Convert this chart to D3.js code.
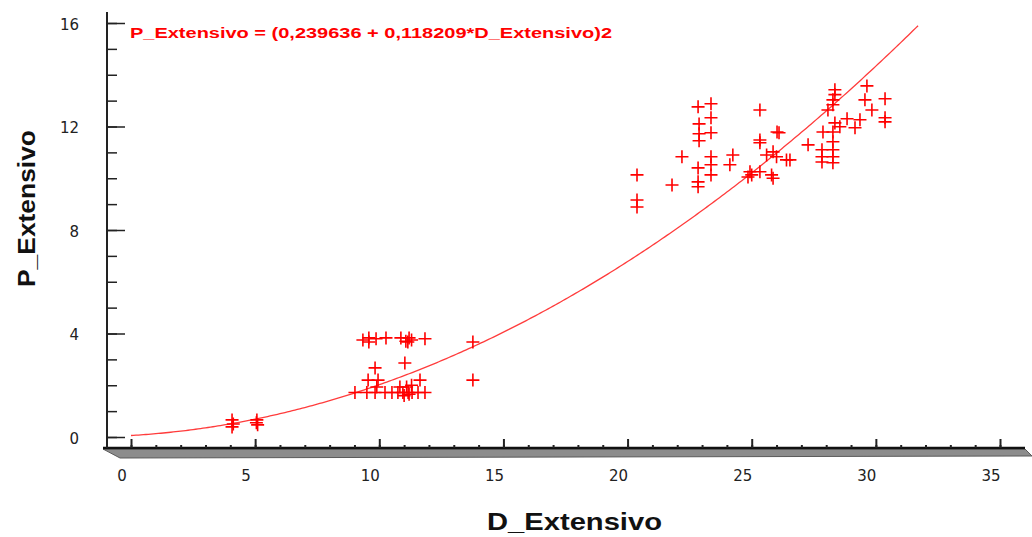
<!DOCTYPE html>
<meta charset="utf-8">
<style>
body { margin: 0; background: #fff; }
.tick-label { font: 15px "DejaVu Sans", sans-serif; fill: #222; }
.title { font-family: "Liberation Sans", Arial, sans-serif; font-weight: bold; fill: #111; }
.eq { font: bold 14px "Liberation Sans", Arial, sans-serif; fill: #ff0000; }
.axis .domain { display: none; }
.axis line { stroke: #222; }
</style>
<svg width="1032" height="537"></svg>
<script src="https://d3js.org/d3.v7.min.js"></script>
<script>

// observed points (D_Extensivo, P_Extensivo)
var dExt = [4.07, 4.07, 4.12, 5.07, 5.1, 5.05,
  9.34, 9.58, 9.58, 9.87, 10.27, 10.87, 11.07, 11.15, 11.2, 11.3, 11.84, 13.77,
  9.83, 11.03, 9.55, 9.95, 11.64, 13.77,
  9.9, 10.83, 11.1, 11.3,
  9.02, 9.5, 9.83, 10.23, 10.51, 10.75, 10.95, 11.16, 11.32, 11.56, 11.84, 11.0, 11.2,
  22.84, 23.36, 23.36, 22.88, 22.88, 22.88, 23.36,
  25.33, 26.02, 26.1, 25.33, 25.33,
  22.19, 24.24, 24.12, 23.36, 23.36, 23.36,
  22.84, 22.84, 22.84, 21.79,
  20.38, 20.38, 20.38,
  25.86, 25.6, 26.0, 26.4,
  24.93, 25.0, 24.85, 25.33, 25.8, 25.86,
  29.64, 29.56, 30.37, 29.84, 30.37, 30.37,
  28.35, 28.35, 28.27, 28.27, 28.07, 28.84, 29.36, 29.16, 28.35, 28.55, 27.87, 28.27,
  28.27, 28.27, 28.27, 28.27, 27.83, 27.83, 27.83, 27.27, 26.54];
var pExt = [0.66, 0.39, 0.5, 0.66, 0.47, 0.55,
  3.75, 3.83, 3.67, 3.8, 3.83, 3.83, 3.7, 3.67, 3.83, 3.75, 3.8, 3.67,
  2.67, 2.86, 2.2, 2.2, 2.2, 2.2,
  1.93, 1.93, 1.93, 2.0,
  1.72, 1.72, 1.72, 1.72, 1.72, 1.72, 1.72, 1.72, 1.72, 1.72, 1.72, 1.6, 1.65,
  12.76, 12.88, 12.34, 12.1, 11.72, 11.45, 11.76,
  12.64, 11.79, 11.76, 11.48, 11.37,
  10.83, 10.9, 10.52, 10.83, 10.52, 10.13,
  10.4, 9.86, 9.67, 9.74,
  10.13, 9.16, 8.89,
  11.02, 10.9, 10.83, 10.71,
  10.25, 10.13, 10.05, 10.25, 10.13, 10.0,
  13.57, 13.03, 13.07, 12.64, 12.34, 12.18,
  13.42, 13.23, 13.03, 12.84, 12.64, 12.3, 12.26, 11.95, 12.14, 11.99, 11.79, 11.79,
  11.41, 11.1, 10.83, 10.6, 11.1, 10.83, 10.63, 11.29, 10.71];

// fitted model shown on the chart: P = (a + b*D)^2
var coefA = 0.239636, coefB = 0.118209;
var fitFrom = 0, fitTo = 31.7;
var eqText = "P_Extensivo = (0,239636 + 0,118209*D_Extensivo)2";

var xTicks = [0, 5, 10, 15, 20, 25, 30, 35];
var yTicks = [0, 4, 8, 12, 16];

var svg = d3.select("svg");

var x = d3.scaleLinear().domain([0, 35]).range([131, 1000]),
    y = d3.scaleLinear().domain([0, 16]).range([437, 23]);

var axisX = 107, floorY = 448;

// x floor (pseudo 3d bar)
svg.append("path")
    .attr("d", "M103," + (floorY + 1) + "L1025," + (floorY + 1) + "L1032," + (floorY + 8) + "L120," + (floorY + 10) + "Z")
    .attr("fill", "#8c8c8c")
    .attr("stroke", "#5a5a5a")
    .attr("stroke-width", 1);
svg.append("line")
    .attr("x1", 103).attr("x2", 1025)
    .attr("y1", floorY).attr("y2", floorY)
    .attr("stroke", "#111").attr("stroke-width", 2.5);

// y axis line
svg.append("line")
    .attr("x1", axisX).attr("x2", axisX)
    .attr("y1", 12).attr("y2", floorY)
    .attr("stroke", "#222").attr("stroke-width", 2);

// y ticks: minor every unit, major every 4
svg.append("g").attr("class", "axis")
    .attr("transform", "translate(" + axisX + ",0)")
    .call(d3.axisRight(y).tickValues(d3.range(0, 17)).tickSize(10).tickFormat(""))
    .selectAll("line").attr("stroke-width", 1.5);
svg.append("g").attr("class", "axis")
    .attr("transform", "translate(" + axisX + ",0)")
    .call(d3.axisRight(y).tickValues(yTicks).tickSize(18).tickFormat(""))
    .selectAll("line").attr("stroke-width", 1.5);

// x ticks
svg.append("g").attr("class", "axis")
    .attr("transform", "translate(0," + floorY + ")")
    .call(d3.axisTop(x).tickValues(d3.range(0, 36)).tickSize(3).tickFormat(""))
    .selectAll("line").attr("stroke-width", 2);
svg.append("g").attr("class", "axis")
    .attr("transform", "translate(0," + floorY + ")")
    .call(d3.axisTop(x).tickValues(xTicks).tickSize(9).tickFormat(""))
    .selectAll("line").attr("stroke-width", 2);

// tick labels
svg.selectAll(".ylab").data(yTicks).enter().append("text")
    .attr("class", "tick-label")
    .attr("x", 79)
    .attr("y", function(d) { return y(d) + 2; })
    .attr("text-anchor", "end")
    .attr("dominant-baseline", "middle")
    .text(function(d) { return d; });

svg.selectAll(".xlab").data(xTicks).enter().append("text")
    .attr("class", "tick-label")
    .attr("x", function(d) { return x(d) - 9; })
    .attr("y", 476)
    .attr("text-anchor", "middle")
    .attr("dominant-baseline", "middle")
    .text(function(d) { return d; });

// axis titles
svg.append("text")
    .attr("class", "title")
    .attr("x", 487).attr("y", 530)
    .attr("font-size", 23)
    .attr("textLength", 175).attr("lengthAdjust", "spacingAndGlyphs")
    .text("D_Extensivo");

svg.append("text")
    .attr("class", "title")
    .attr("transform", "translate(35,287) rotate(-90)")
    .attr("font-size", 24)
    .attr("textLength", 157).attr("lengthAdjust", "spacingAndGlyphs")
    .text("P_Extensivo");

// fitted curve
var fitPts = d3.range(fitFrom, fitTo + 0.001, 0.1).map(function(d) {
  var v = coefA + coefB * d;
  return [d, v * v];
});
svg.append("path")
    .datum(fitPts)
    .attr("fill", "none")
    .attr("stroke", "#ff3c3c")
    .attr("stroke-width", 1.3)
    .attr("d", d3.line().x(function(d) { return x(d[0]); }).y(function(d) { return y(d[1]); }));

// points as "+"
var pts = dExt.map(function(d, i) { return [d, pExt[i]]; });
svg.append("g").selectAll("path").data(pts).enter().append("path")
    .attr("d", function(d) {
      var cx = x(d[0]), cy = y(d[1]), r = 6.5;
      return "M" + (cx - r) + "," + cy + "H" + (cx + r) + "M" + cx + "," + (cy - r) + "V" + (cy + r);
    })
    .attr("stroke", "#ff0000")
    .attr("stroke-width", 1.6)
    .attr("fill", "none");

// equation
svg.append("text")
    .attr("class", "eq")
    .attr("x", 130).attr("y", 38)
    .attr("textLength", 482).attr("lengthAdjust", "spacingAndGlyphs")
    .text(eqText);

</script>
